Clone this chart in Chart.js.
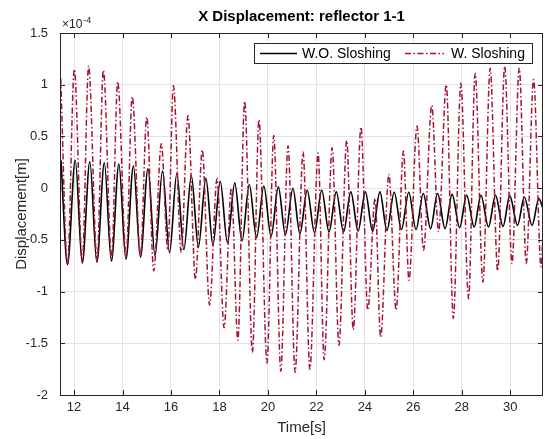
<!DOCTYPE html>
<html><head><meta charset="utf-8">
<script src="https://cdn.jsdelivr.net/npm/chart.js@4.4.1/dist/chart.umd.min.js"></script>
<style>html,body{margin:0;padding:0;background:#fff}#c{display:block}</style>
</head><body>
<canvas id="c" width="545" height="439"></canvas>
<script>
// W.O. Sloshing: alternating peaks / troughs (time [s], displacement x1e-4 m)
const woTime = [11.46,11.73,12.05,12.34,12.65,12.94,13.25,13.54,13.85,14.14,14.45,14.74,15.05,15.34,15.65,15.94,16.24,16.53,16.84,17.13,17.44,17.73,18.03,18.33,18.63,18.93,19.23,19.53,19.83,20.13,20.43,20.72,21.03,21.32,21.62,21.92,22.22,22.52,22.82,23.12,23.42,23.72,24.02,24.32,24.62,24.91,25.21,25.51,25.81,26.11,26.41,26.71,27.0,27.31,27.6,27.91,28.2,28.51,28.79,29.1,29.39,29.7,29.98,30.3,30.58,30.9,31.18,31.35];
const woDisp = [0.27,-0.738,0.27,-0.725,0.255,-0.715,0.245,-0.705,0.232,-0.689,0.216,-0.667,0.19,-0.65,0.167,-0.624,0.142,-0.595,0.12,-0.57,0.094,-0.547,0.067,-0.527,0.051,-0.511,0.035,-0.479,0.02,-0.466,0.012,-0.45,-0.003,-0.44,-0.02,-0.43,-0.02,-0.424,-0.036,-0.424,-0.036,-0.414,-0.036,-0.417,-0.036,-0.408,-0.04,-0.40,-0.04,-0.40,-0.052,-0.391,-0.052,-0.391,-0.06,-0.382,-0.068,-0.376,-0.068,-0.376,-0.068,-0.37,-0.075,-0.36,-0.085,-0.36,-0.10,-0.2];
// W. Sloshing: alternating peaks / troughs
const wTime = [11.45,11.73,12.01,12.34,12.6,12.95,13.21,13.55,13.8,14.15,14.4,14.74,15.0,15.29,15.6,15.87,16.1,16.42,16.7,17.01,17.29,17.59,17.9,18.19,18.49,18.76,19.04,19.36,19.63,19.96,20.24,20.53,20.83,21.12,21.45,21.73,22.07,22.32,22.65,22.93,23.25,23.52,23.84,24.12,24.42,24.65,24.99,25.29,25.59,25.82,26.15,26.42,26.76,27.04,27.36,27.65,27.96,28.28,28.55,28.87,29.17,29.48,29.77,30.07,30.37,30.66,30.96,31.27,31.35];
const wDisp = [1.06,-0.74,1.15,-0.72,1.18,-0.70,1.14,-0.68,1.03,-0.67,0.885,-0.66,0.69,-0.80,0.43,-0.60,0.99,-0.62,0.70,-0.88,0.37,-1.13,0.09,-1.35,0.0,-1.47,0.84,-1.59,0.66,-1.69,0.51,-1.77,0.41,-1.78,0.35,-1.75,0.34,-1.66,0.39,-1.52,0.46,-1.37,0.59,-1.18,-0.1,-1.44,0.135,-1.18,0.36,-0.89,0.60,-0.60,0.80,-0.42,1.0,-1.26,1.015,-1.07,1.11,-0.91,1.16,-0.80,1.18,-0.73,1.16,-0.725,1.05,-0.76,-0.45];
const xTicks = [12,14,16,18,20,22,24,26,28,30];
const yTicks = [-2,-1.5,-1,-0.5,0,0.5,1,1.5];
const seriesNames = ['W.O. Sloshing','W. Sloshing'];
const titleText = 'X Displacement: reflector 1-1';

const FONT = "'Liberation Sans', Arial, Helvetica, sans-serif";
const AXC = '#262626';
const RED = '#A2142F';

const toPts = (t, v) => t.map((x, i) => ({x, y: v[i]}));

const decor = {
  id: 'decor',
  afterDraw(chart) {
    const {ctx, chartArea: a, scales} = chart;
    ctx.save();
    // box
    ctx.strokeStyle = AXC; ctx.lineWidth = 1;
    ctx.strokeRect(Math.round(a.left) + 0.5, Math.round(a.top) + 0.5, Math.round(a.right - a.left) - 1, Math.round(a.bottom - a.top));
    // inward ticks
    ctx.beginPath();
    xTicks.forEach(v => {
      const x = Math.round(scales.x.getPixelForValue(v)) + 0.5;
      ctx.moveTo(x, a.bottom); ctx.lineTo(x, a.bottom - 5);
      ctx.moveTo(x, a.top); ctx.lineTo(x, a.top + 5);
    });
    yTicks.forEach(v => {
      const y = Math.round(scales.y.getPixelForValue(v)) + 0.5;
      ctx.moveTo(a.left, y); ctx.lineTo(a.left + 5, y);
      ctx.moveTo(a.right, y); ctx.lineTo(a.right - 5, y);
    });
    ctx.stroke();
    // title
    ctx.fillStyle = '#000';
    ctx.font = 'bold 15px ' + FONT;
    ctx.textAlign = 'center'; ctx.textBaseline = 'middle';
    ctx.fillText(titleText, (a.left + a.right) / 2, 17);
    // exponent
    ctx.fillStyle = AXC;
    ctx.textAlign = 'left'; ctx.textBaseline = 'alphabetic';
    ctx.font = '12px ' + FONT;
    ctx.fillText('\u00d710', a.left + 2, 28);
    const w = ctx.measureText('\u00d710').width;
    ctx.font = '9px ' + FONT;
    ctx.fillText('-4', a.left + 2 + w + 1, 23);
    // legend
    const lx = 254, ly = 43.5, lw = 278, lh = 20;
    ctx.fillStyle = '#fff';
    ctx.fillRect(lx, ly, lw, lh);
    ctx.strokeStyle = AXC; ctx.lineWidth = 1;
    ctx.strokeRect(lx + 0.5, ly, lw, lh);
    const cy = ly + lh / 2;
    ctx.lineWidth = 1.6;
    ctx.strokeStyle = '#000';
    ctx.beginPath(); ctx.moveTo(260, cy); ctx.lineTo(297, cy); ctx.stroke();
    ctx.strokeStyle = RED; ctx.setLineDash([6, 2.5, 1.5, 2.5]);
    ctx.beginPath(); ctx.moveTo(405, cy); ctx.lineTo(444, cy); ctx.stroke();
    ctx.setLineDash([]);
    ctx.fillStyle = '#000';
    ctx.font = '14px ' + FONT; ctx.textBaseline = 'middle';
    ctx.fillText(seriesNames[0], 302, cy + 0.5);
    ctx.fillText(seriesNames[1], 451, cy + 0.5);
    ctx.restore();
  }
};

new Chart(document.getElementById('c'), {
  type: 'line',
  data: {
    datasets: [
      {label: seriesNames[0], data: toPts(woTime, woDisp), borderColor: '#000', borderWidth: 1.6,
       pointRadius: 0, cubicInterpolationMode: 'monotone', order: 1},
      {label: seriesNames[1], data: toPts(wTime, wDisp), borderColor: RED, borderWidth: 1.5,
       borderDash: [6, 2.5, 1.5, 2.5], pointRadius: 0, cubicInterpolationMode: 'monotone', order: 0}
    ]
  },
  options: {
    responsive: false, animation: false, devicePixelRatio: 1,
    layout: {padding: {top: 33, right: 2, left: 0, bottom: 0}},
    plugins: {legend: {display: false}, tooltip: {enabled: false}},
    scales: {
      x: {
        type: 'linear', min: 11.42, max: 31.35,
        afterBuildTicks: s => { s.ticks = xTicks.map(v => ({value: v})); },
        afterFit: s => { s.height = 44; },
        grid: {color: '#e3e3e3', drawTicks: false},
        border: {display: false},
        ticks: {font: {family: FONT, size: 13}, color: AXC, padding: 5, maxRotation: 0, autoSkip: false,
                callback: v => String(v)},
        title: {display: true, text: 'Time[s]', font: {family: FONT, size: 15}, color: AXC, padding: {top: 0, bottom: 2}}
      },
      y: {
        type: 'linear', min: -2, max: 1.5,
        afterBuildTicks: s => { s.ticks = yTicks.map(v => ({value: v})); },
        afterFit: s => { s.width = 60; },
        grid: {color: '#e3e3e3', drawTicks: false},
        border: {display: false},
        ticks: {font: {family: FONT, size: 13}, color: AXC, padding: 12, autoSkip: false,
                callback: v => String(v)},
        title: {display: true, text: 'Displacement[m]', font: {family: FONT, size: 15}, color: AXC, padding: {top: 13, bottom: 0}}
      }
    }
  },
  plugins: [decor]
});
</script>
</body></html>
